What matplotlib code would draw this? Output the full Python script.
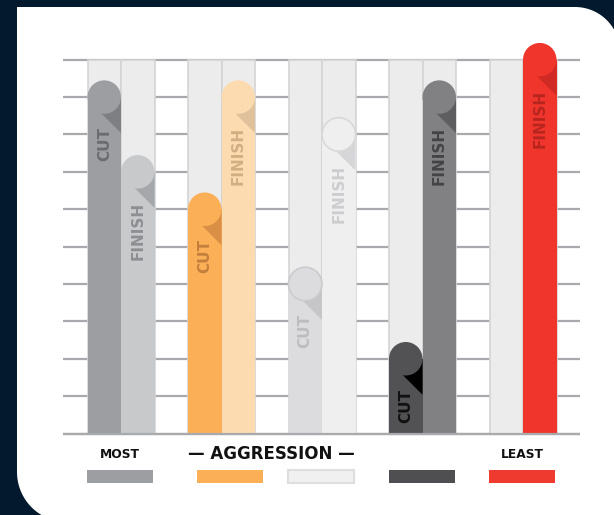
import numpy as np
import matplotlib
matplotlib.use("Agg")
import matplotlib.pyplot as plt
from matplotlib.patches import Rectangle, Ellipse, Polygon, PathPatch
from matplotlib.path import Path

# ---------------- data ----------------
groups = ["G1", "G2", "G3", "G4", "G5"]
series_labels = ["CUT", "FINISH"]
cut_values = [9, 6, 4, 2, None]
finish_values = [7, 9, 8, 9, 10]
grid_values = list(range(0, 11))

cut_colors = ["#9d9ea2", "#fbb058", "#dcdcde", "#525254", None]
cut_fold = ["#7e7f83", "#d98f45", "#c6c6c8", "#000000", None]
cut_text = ["#6b6c70", "#c47f3c", "#bdbdbf", "#111111", None]
cut_edge = [None, None, "#cbcbcd", None, None]

finish_colors = ["#c8c9cb", "#fddbb0", "#efefef", "#818184", "#f0352c"]
finish_fold = ["#a6a7aa", "#dfc29c", "#d6d6d8", "#5e5e61", "#cf2a24"]
finish_text = ["#8e8f92", "#d2ae83", "#cdcdcf", "#444446", "#b8251f"]
finish_edge = [None, None, "#d8d8d8", None, None]

legend_colors = ["#9d9ea2", "#fbb058", "#f0f0f0", "#4f4f51", "#ef3a30"]
legend_edges = [None, None, "#dedede", None, None]
end_labels = ["MOST", "LEAST"]
axis_title = "\u2014 AGGRESSION \u2014"

# ---------------- figure ----------------
W, H = 614, 515
fig = plt.figure(figsize=(6.14, 5.15), dpi=100)
fig.patch.set_facecolor("#031a2e")

bg = fig.add_axes([0, 0, 1, 1])
bg.set_xlim(0, W)
bg.set_ylim(H, 0)
bg.axis("off")

def arc(cx, cy, r, a0, a1, n=40):
    a = np.radians(np.linspace(a0, a1, n))
    return list(zip(cx + r * np.cos(a), cy + r * np.sin(a)))

L, T, R, B = 17, 7, 620, 522
rtr, rbl = 45, 50
verts = [(L, T)] + arc(R - rtr, T + rtr, rtr, -90, 0) + [(R, B)] + arc(L + rbl, B - rbl, rbl, 90, 180) + [(L, T)]
codes = [Path.MOVETO] + [Path.LINETO] * (len(verts) - 2) + [Path.CLOSEPOLY]
bg.add_patch(PathPatch(Path(verts, codes), facecolor="white", edgecolor="none"))

# main axes: data units mapped to pixels
PX, X0 = 100.5, 121.0     # px per group, px of group 0 centre
PY, Y0 = 37.38, 433.5     # px per value unit, px of value 0
ax = fig.add_axes([0, 0, 1, 1])
ax.patch.set_alpha(0)
ax.set_xlim((0 - X0) / PX, (W - X0) / PX)
ax.set_ylim((Y0 - H) / PY, Y0 / PY)
ax.axis("off")

BW = 33.5 / PX
rpx = 16.75
xmin, xmax = (63 - X0) / PX, (580 - X0) / PX

ax.hlines(grid_values, xmin, xmax, color="#a9aaad", lw=1.6, zorder=1)

n = len(groups)
for i in range(n):
    for off in (-BW / 2, BW / 2):
        ax.add_patch(Rectangle((i + off - BW / 2, 0), BW, max(grid_values),
                               facecolor="#ececec", edgecolor="#d4d4d4", lw=1.2, zorder=2))

def draw_bar(xc, v, color, fold, tcolor, edge, label):
    ax.add_patch(Rectangle((xc - BW / 2, 0), BW, v, facecolor=color, edgecolor="none", zorder=3))
    # folded shadow below the rounded top
    pts_px = [(rpx, 0), (rpx, 2.15 * rpx), (-0.5 * rpx, 0.65 * rpx), (0, 0)]
    pts = [(xc + dx / PX, v - dy / PY) for dx, dy in pts_px]
    ax.add_patch(Polygon(pts, closed=True, facecolor=fold, edgecolor="none", zorder=4))
    ax.add_patch(Ellipse((xc, v), BW, 2 * rpx / PY, facecolor=color,
                         edgecolor=edge if edge else "none", lw=1.2, zorder=5))
    ax.text(xc, v - 30 / PY, label, rotation=90, ha="center", va="top",
            fontsize=11, fontweight="bold", color=tcolor, zorder=6)

for i in range(n):
    if cut_values[i] is not None:
        draw_bar(i - BW / 2, cut_values[i], cut_colors[i], cut_fold[i], cut_text[i], cut_edge[i], series_labels[0])
    if finish_values[i] is not None:
        draw_bar(i + BW / 2, finish_values[i], finish_colors[i], finish_fold[i], finish_text[i], finish_edge[i], series_labels[1])

ax.hlines([0], xmin, xmax, color="#a9aaad", lw=1.6, zorder=7)

# ---------------- legend ----------------
sw_x = [87, 197, 288, 389, 489]
for x, c, e in zip(sw_x, legend_colors, legend_edges):
    bg.add_patch(Rectangle((x, 470), 66, 13, facecolor=c,
                           edgecolor=e if e else "none", lw=1.5))
bg.text(120, 455, end_labels[0], ha="center", va="center", fontsize=8.8, fontweight="bold", color="#111111")
bg.text(522, 455, end_labels[1], ha="center", va="center", fontsize=8.8, fontweight="bold", color="#111111")
bg.text(271, 454, axis_title, ha="center", va="center", fontsize=12, fontweight="bold", color="#111111")

fig.savefig("out.png", dpi=100, facecolor=fig.get_facecolor())
